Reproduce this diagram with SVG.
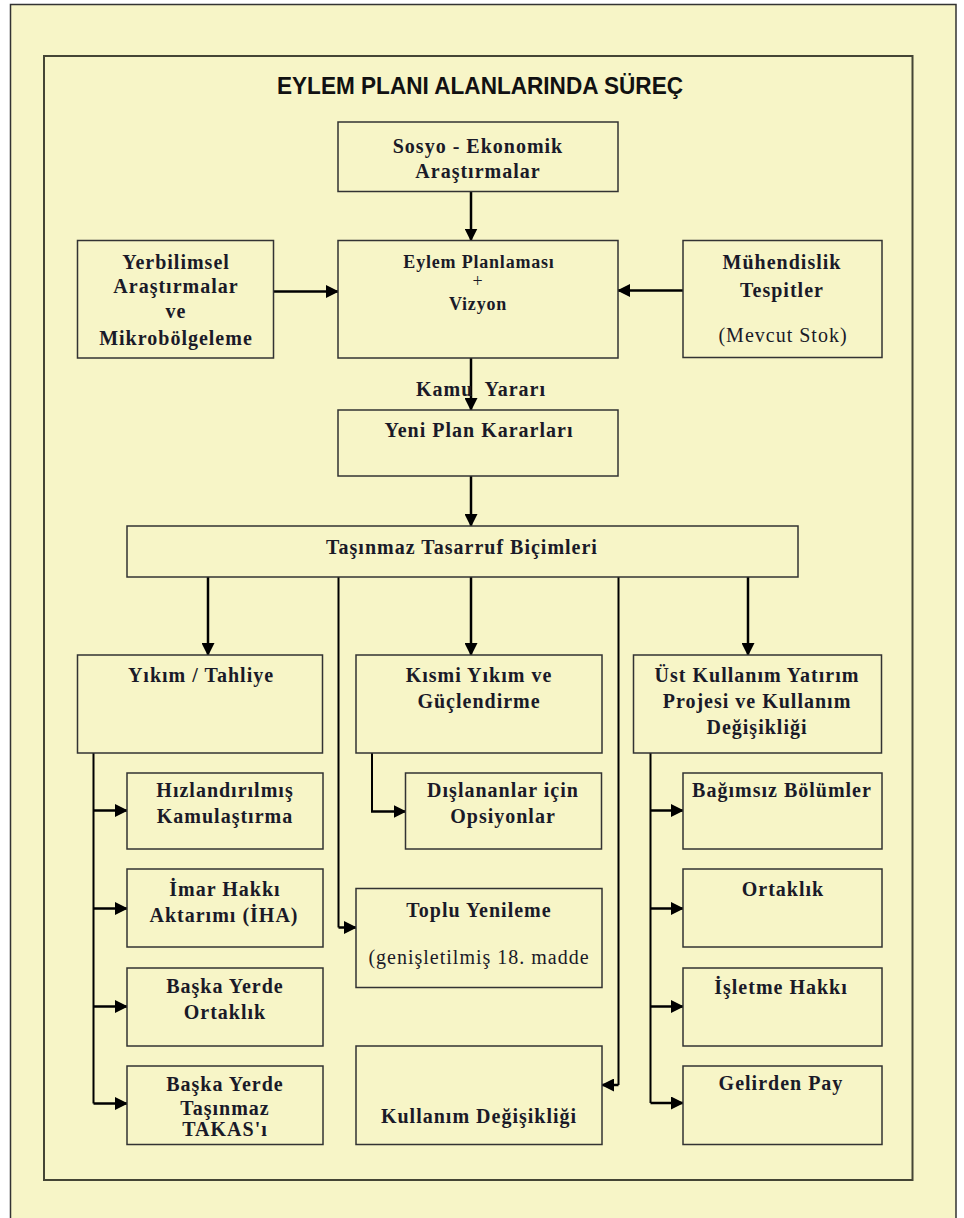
<svg xmlns="http://www.w3.org/2000/svg" width="964" height="1218" viewBox="0 0 964 1218">
<style>
.box{fill:#F7F5C7;stroke:#333;stroke-width:1.5}
.t{font-family:"Liberation Serif","Times New Roman",serif;font-weight:bold;font-size:20px;letter-spacing:1px;text-anchor:middle;fill:#1a1a28}
.r{font-weight:normal}
.s{font-size:18px;letter-spacing:0.8px}
.c{stroke:#000;stroke-width:2.5;fill:none}
.v{stroke:#000;stroke-width:2;fill:none}
.title{font-family:"Liberation Sans",Arial,sans-serif;font-weight:bold;font-size:23px;text-anchor:middle;fill:#111}
</style>
<defs>
<marker id="ah" markerUnits="userSpaceOnUse" markerWidth="13" markerHeight="13" refX="12" refY="6.5" orient="auto">
<path d="M0,0 L13,6.5 L0,13 z" fill="#000"/>
</marker>
</defs>
<rect x="0" y="0" width="964" height="1218" fill="#FFFFFF"/>
<path d="M10.5,1219 V4.5 H956 V1219 Z" fill="#F7F5C7" stroke="#333" stroke-width="1.5"/>
<rect x="44" y="56" width="868.5" height="1124" fill="none" stroke="#454535" stroke-width="2"/>
<text class="title" x="480" y="94" textLength="406" lengthAdjust="spacingAndGlyphs">EYLEM PLANI ALANLARINDA SÜREÇ</text>

<g id="connectors">
<line class="c" x1="471" y1="191.5" x2="471" y2="240.5" marker-end="url(#ah)"/>
<line class="c" x1="273.5" y1="291.5" x2="338" y2="291.5" marker-end="url(#ah)"/>
<line class="c" x1="683" y1="290.5" x2="618" y2="290.5" marker-end="url(#ah)"/>
<line class="c" x1="471" y1="358" x2="471" y2="410" marker-end="url(#ah)"/>
<line class="c" x1="471" y1="476" x2="471" y2="526" marker-end="url(#ah)"/>
<line class="c" x1="208" y1="577" x2="208" y2="655" marker-end="url(#ah)"/>
<line class="c" x1="471" y1="577" x2="471" y2="655" marker-end="url(#ah)"/>
<line class="c" x1="748" y1="577" x2="748" y2="655" marker-end="url(#ah)"/>
<path class="v" d="M338.5,577 V927.5"/>
<line class="c" x1="338.5" y1="927.5" x2="356" y2="927.5" marker-end="url(#ah)"/>
<path class="v" d="M618.5,577 V1085"/>
<line class="c" x1="618.5" y1="1085" x2="602" y2="1085" marker-end="url(#ah)"/>
<path class="v" d="M93.5,753 V1103.5"/>
<line class="c" x1="93.5" y1="810.5" x2="127" y2="810.5" marker-end="url(#ah)"/>
<line class="c" x1="93.5" y1="908.5" x2="127" y2="908.5" marker-end="url(#ah)"/>
<line class="c" x1="93.5" y1="1006.5" x2="127" y2="1006.5" marker-end="url(#ah)" stroke-width="4"/>
<line class="c" x1="93.5" y1="1103.5" x2="127" y2="1103.5" marker-end="url(#ah)"/>
<path class="v" d="M372,753 V811.5"/>
<line class="c" x1="371" y1="811.5" x2="405.5" y2="811.5" marker-end="url(#ah)"/>
<path class="v" d="M650.5,753 V1103"/>
<line class="c" x1="650.5" y1="810.5" x2="683" y2="810.5" marker-end="url(#ah)"/>
<line class="c" x1="650.5" y1="908.5" x2="683" y2="908.5" marker-end="url(#ah)"/>
<line class="c" x1="650.5" y1="1006.5" x2="683" y2="1006.5" marker-end="url(#ah)" stroke-width="4"/>
<line class="c" x1="650.5" y1="1103" x2="683" y2="1103" marker-end="url(#ah)"/>
<text class="t" x="481" y="396" letter-spacing="0.3" xml:space="preserve">Kamu  Yararı</text>
</g>

<g id="sosyo">
<rect class="box" x="338" y="122" width="280" height="69.5"/>
<text class="t" x="478" y="152.5">Sosyo - Ekonomik</text>
<text class="t" x="478" y="178">Araştırmalar</text>
</g>
<g id="yerbilimsel">
<rect class="box" x="77.5" y="240.5" width="196" height="117.5"/>
<text class="t" x="176" y="269">Yerbilimsel</text>
<text class="t" x="176" y="293">Araştırmalar</text>
<text class="t" x="176" y="318">ve</text>
<text class="t" x="176" y="345">Mikrobölgeleme</text>
</g>
<g id="eylem">
<rect class="box" x="338" y="240.5" width="280" height="117.5"/>
<text class="t s" x="479" y="268">Eylem Planlaması</text>
<text class="t s r" x="478" y="287">+</text>
<text class="t s" x="478" y="310">Vizyon</text>
</g>
<g id="muhendislik">
<rect class="box" x="683" y="240.5" width="199" height="117"/>
<text class="t" x="782" y="269">Mühendislik</text>
<text class="t" x="782" y="297">Tespitler</text>
<text class="t r" x="783" y="342">(Mevcut Stok)</text>
</g>
<g id="yeni-plan">
<rect class="box" x="338" y="410" width="280" height="66"/>
<text class="t" x="479" y="437">Yeni Plan Kararları</text>
</g>
<g id="tasinmaz">
<rect class="box" x="127" y="526" width="671" height="51"/>
<text class="t" x="462" y="554">Taşınmaz Tasarruf Biçimleri</text>
</g>
<g id="yikim">
<rect class="box" x="77.5" y="655" width="245" height="98"/>
<text class="t" x="201" y="682">Yıkım / Tahliye</text>
</g>
<g id="kismi">
<rect class="box" x="356" y="655" width="246" height="98"/>
<text class="t" x="479" y="682">Kısmi Yıkım ve</text>
<text class="t" x="479" y="708">Güçlendirme</text>
</g>
<g id="ust">
<rect class="box" x="633.5" y="655" width="248" height="98"/>
<text class="t" x="757" y="682">Üst Kullanım Yatırım</text>
<text class="t" x="757" y="708">Projesi ve Kullanım</text>
<text class="t" x="757" y="734">Değişikliği</text>
</g>
<g id="hizlandirilmis">
<rect class="box" x="127" y="773" width="196" height="76"/>
<text class="t" x="225" y="797">Hızlandırılmış</text>
<text class="t" x="225" y="823">Kamulaştırma</text>
</g>
<g id="imar">
<rect class="box" x="127" y="869" width="196" height="78"/>
<text class="t" x="225" y="896">İmar Hakkı</text>
<text class="t" x="224" y="922">Aktarımı (İHA)</text>
</g>
<g id="baska-ortaklik">
<rect class="box" x="127" y="968" width="196" height="78"/>
<text class="t" x="225" y="993">Başka Yerde</text>
<text class="t" x="225" y="1019">Ortaklık</text>
</g>
<g id="baska-takas">
<rect class="box" x="127" y="1066" width="196" height="78.5"/>
<text class="t" x="225" y="1091">Başka Yerde</text>
<text class="t" x="225" y="1115">Taşınmaz</text>
<text class="t" x="225" y="1136">TAKAS'ı</text>
</g>
<g id="dislananlar">
<rect class="box" x="405.5" y="773" width="196" height="76"/>
<text class="t" x="503" y="797">Dışlananlar için</text>
<text class="t" x="503" y="823">Opsiyonlar</text>
</g>
<g id="toplu">
<rect class="box" x="356" y="888.5" width="246" height="99"/>
<text class="t" x="479" y="917">Toplu Yenileme</text>
<text class="t r" x="479" y="964" letter-spacing="0.3">(genişletilmiş 18. madde</text>
</g>
<g id="kullanim">
<rect class="box" x="356" y="1046" width="246" height="98.5"/>
<text class="t" x="479" y="1123">Kullanım Değişikliği</text>
</g>
<g id="bagimsiz">
<rect class="box" x="683" y="773" width="199" height="76"/>
<text class="t" x="782" y="797">Bağımsız Bölümler</text>
</g>
<g id="ortaklik">
<rect class="box" x="683" y="869" width="199" height="78"/>
<text class="t" x="783" y="896">Ortaklık</text>
</g>
<g id="isletme">
<rect class="box" x="683" y="968" width="199" height="78"/>
<text class="t" x="781" y="994">İşletme Hakkı</text>
</g>
<g id="gelirden">
<rect class="box" x="683" y="1066" width="199" height="78.5"/>
<text class="t" x="781" y="1090">Gelirden Pay</text>
</g>
</svg>
